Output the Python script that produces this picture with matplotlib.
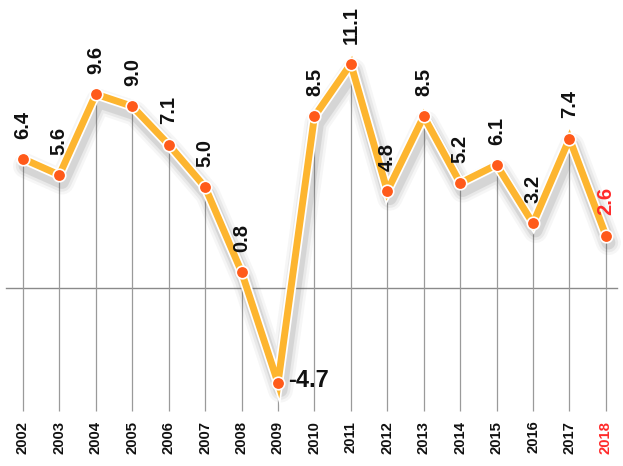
import matplotlib
matplotlib.use("Agg")
import matplotlib.pyplot as plt
import matplotlib.patheffects as pe

# Données
years = list(range(2002, 2019))
values = [6.4, 5.6, 9.6, 9.0, 7.1, 5.0, 0.8, -4.7, 8.5, 11.1, 4.8, 8.5, 5.2, 6.1, 3.2, 7.4, 2.6]
labels = ["6.4", "5.6", "9.6", "9.0", "7.1", "5.0", "0.8", "-4.7", "8.5", "11.1",
          "4.8", "8.5", "5.2", "6.1", "3.2", "7.4", "2.6"]

LINE = "#FDB52F"
DOT = "#FF5A1A"
RED = "#FF2A2A"
FONT = "Liberation Sans"

fig = plt.figure(figsize=(6.23, 4.66), dpi=100)
ax = fig.add_axes([0, 0, 1, 1])
ax.set_xlim(2001.37, 2018.47)
ax.set_ylim(-8.81, 14.26)
ax.axis("off")

# ligne du zéro + verticales
ax.axhline(0, xmin=0.01, xmax=0.99, color="#8a8a8a", lw=1.0, zorder=1)
ax.vlines(years, -6.1, values, color="#9a9a9a", lw=0.9, zorder=1)

# ombre floue approximée par plusieurs traits
for w, a in [(18, 0.05), (14, 0.08), (10, 0.13)]:
    ax.plot([x + 0.07 for x in years], [v - 0.35 for v in values], color="#555555",
            lw=w, alpha=a, solid_joinstyle="round", solid_capstyle="round", zorder=2)

ax.plot(years, values, color=LINE, lw=5, solid_joinstyle="miter", zorder=3,
        path_effects=[pe.Stroke(linewidth=7.5, foreground="white"), pe.Normal()])
ax.plot(years, values, ls="none", marker="o", ms=9, mfc=DOT, mec="white", mew=1.2, zorder=4)

for y, v, lab in zip(years, values, labels):
    col = RED if y == 2018 else "#111111"
    if v < 0:
        ax.text(y + 0.27, v + 0.1, lab, ha="left", va="center", fontsize=17,
                fontweight="bold", color=col, family=FONT, zorder=5)
    else:
        ax.text(y, v + 1.0, lab, ha="center", va="bottom", rotation=90, fontsize=14.5,
                fontweight="bold", color=col, family=FONT, zorder=5)

for y in years:
    col = RED if y == 2018 else "#111111"
    ax.text(y, -7.38, str(y), ha="center", va="center", rotation=90, fontsize=10.7,
            fontweight="bold", color=col, family=FONT)

fig.savefig("out.png", dpi=100)
